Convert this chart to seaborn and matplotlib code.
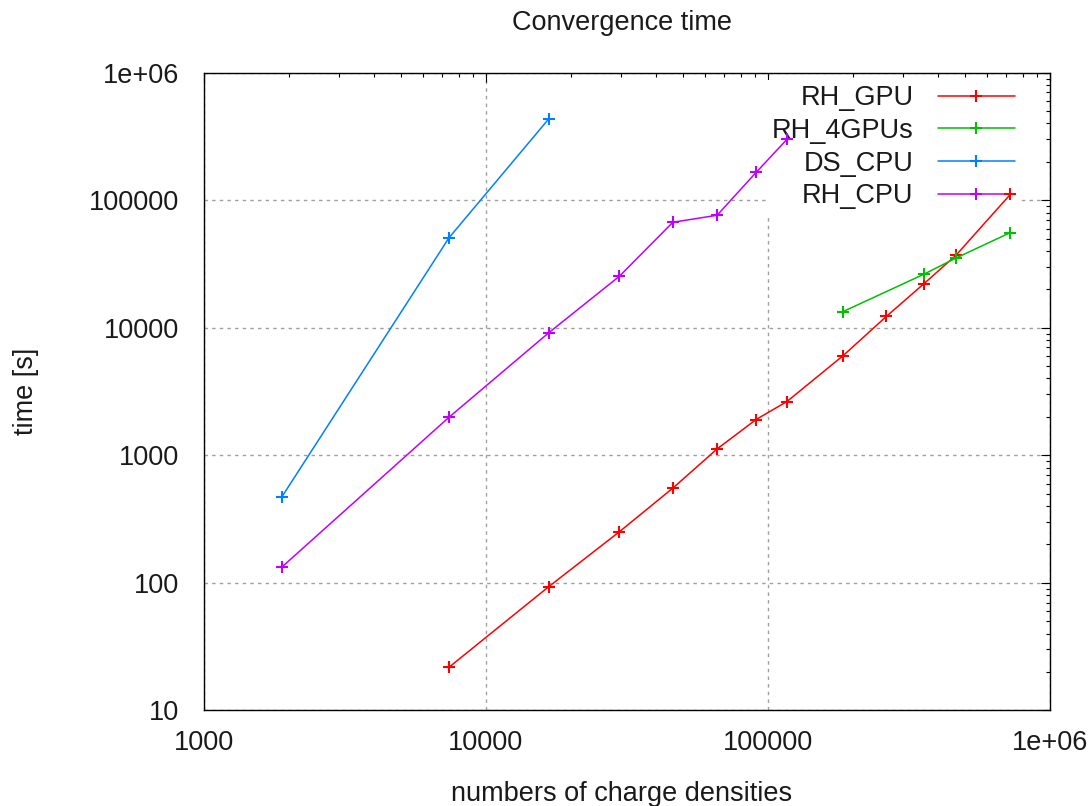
import numpy as np
import pandas as pd
import matplotlib
matplotlib.use("Agg")
import matplotlib.pyplot as plt
import matplotlib.ticker as mticker
import seaborn as sns

# ---- data ----
series_names = ["RH_GPU", "RH_4GPUs", "DS_CPU", "RH_CPU"]
series_colors = ["#ff0000", "#00c000", "#0080ff", "#c000ff"]

rh_gpu_x = [7400, 16700, 29700, 46000, 66000, 90700, 116700, 184800, 263000, 356000, 464000, 723000]
rh_gpu_y = [21.8, 93.3, 251, 553, 1121, 1905, 2637, 6050, 12280, 22000, 37000, 111000]

rh_4gpus_x = [184800, 356000, 464000, 723000]
rh_4gpus_y = [13400, 26200, 35200, 55700]

ds_cpu_x = [1890, 7400, 16700]
ds_cpu_y = [473, 50900, 435000]

rh_cpu_x = [1890, 7400, 16700, 29700, 46000, 66000, 90700, 116700]
rh_cpu_y = [133, 1990, 9140, 25300, 67200, 76200, 165000, 300000]

x_ticks = [1000, 10000, 100000, 1000000]
x_tick_labels = ["1000", "10000", "100000", "1e+06"]
y_ticks = [10, 100, 1000, 10000, 100000, 1000000]
y_tick_labels = ["10", "100", "1000", "10000", "100000", "1e+06"]

title = "Convergence time"
x_label = "numbers of charge densities"
y_label = "time [s]"

# ---- build tidy frame ----
all_x = [rh_gpu_x, rh_4gpus_x, ds_cpu_x, rh_cpu_x]
all_y = [rh_gpu_y, rh_4gpus_y, ds_cpu_y, rh_cpu_y]
frames = [pd.DataFrame({"n": xs, "t": ys, "series": name})
          for name, xs, ys in zip(series_names, all_x, all_y)]
df = pd.concat(frames, ignore_index=True)

# ---- style ----
sns.set_theme(style="white")
plt.rcParams["font.family"] = ["Liberation Sans", "DejaVu Sans"]
FS = 19.5
plt.rcParams["font.size"] = FS

fig = plt.figure(figsize=(10.89, 8.06), dpi=100)
ax = fig.add_axes([204 / 1089, 1 - 710.3 / 806, 846 / 1089, 637.6 / 806])

for name, color in zip(series_names, series_colors):
    sub = df[df["series"] == name]
    sns.lineplot(data=sub, x="n", y="t", ax=ax, color=color, label=name,
                 estimator=None, errorbar=None, sort=False,
                 linewidth=1.1, marker="+", markersize=8, markeredgewidth=1.5,
                 markeredgecolor=color, zorder=3)

ax.set_xscale("log")
ax.set_yscale("log")
ax.set_xlim(1000, 1e6)
ax.set_ylim(10, 1e6)

ax.xaxis.set_major_locator(mticker.FixedLocator(x_ticks))
ax.xaxis.set_major_formatter(mticker.FixedFormatter(x_tick_labels))
ax.yaxis.set_major_locator(mticker.FixedLocator(y_ticks))
ax.yaxis.set_major_formatter(mticker.FixedFormatter(y_tick_labels))
ax.xaxis.set_minor_locator(mticker.LogLocator(base=10, subs=np.arange(2, 10), numticks=20))
ax.yaxis.set_minor_locator(mticker.LogLocator(base=10, subs=np.arange(2, 10), numticks=20))
ax.xaxis.set_minor_formatter(mticker.NullFormatter())
ax.yaxis.set_minor_formatter(mticker.NullFormatter())

ax.tick_params(which="both", direction="in", top=True, right=True,
               color="black", width=0.8, labelsize=FS, labelcolor="#1a1a1a")
ax.tick_params(which="major", length=6.5)
ax.tick_params(which="minor", length=3.2)
ax.tick_params(axis="x", which="major", pad=14)
ax.tick_params(axis="y", which="major", pad=18)

for sp in ax.spines.values():
    sp.set_visible(True)
    sp.set_color("black")
    sp.set_linewidth(1.0)

ax.set_axisbelow(True)
ax.grid(True, which="major", color="#a0a0a0", linestyle=(0, (2.5, 3)), linewidth=1.0)
ax.grid(False, which="minor")

ax.set_title(title, fontsize=FS, pad=31, x=0.494, color="#1a1a1a")
ax.set_xlabel(x_label, fontsize=FS, color="#1a1a1a")
ax.set_ylabel(y_label, fontsize=FS, color="#1a1a1a")
ax.xaxis.set_label_coords(0.494, -0.111)
ax.yaxis.set_label_coords(-0.195, 0.5)

leg = ax.legend(loc="upper right", bbox_to_anchor=(0.965, 0.989), borderaxespad=0,
                markerfirst=False, frameon=True, fancybox=False, framealpha=1,
                edgecolor="none", facecolor="white", fontsize=FS,
                handlelength=2.85, handletextpad=0.9, labelspacing=0.25,
                borderpad=0.2)
for t in leg.get_texts():
    t.set_color("#1a1a1a")
leg.set_zorder(1.5)

fig.savefig("out.png", dpi=100)
